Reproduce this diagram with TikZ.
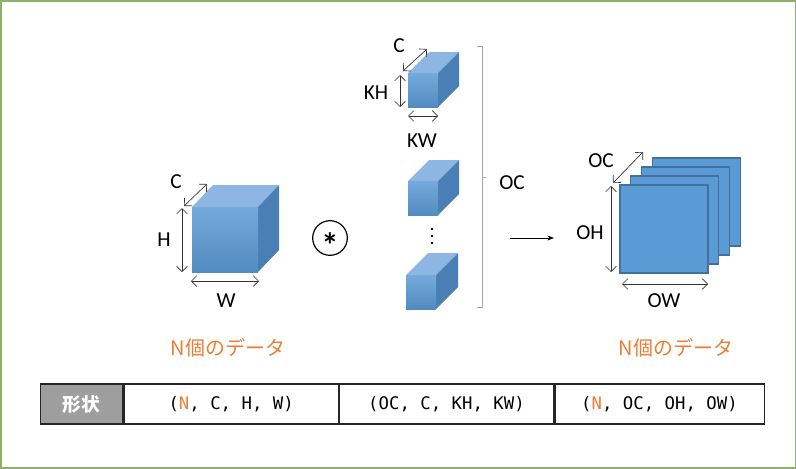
\documentclass[tikz,border=0pt]{standalone}
\usepackage{fontspec}
\setmainfont{Carlito}
\newfontfamily\jp{Noto Sans CJK JP}
\newfontfamily\mono{DejaVu Sans Mono}
\usetikzlibrary{arrows.meta}
\definecolor{cfront}{HTML}{5B9BD5}
\definecolor{ctop}{HTML}{8DB6E3}
\definecolor{cside}{HTML}{4A7FB5}
\definecolor{cedge}{HTML}{41719C}
\definecolor{orng}{HTML}{ED7D31}
\definecolor{grn}{HTML}{8FAF6E}
\begin{document}
\begin{tikzpicture}[x=0.75pt,y=-0.75pt,
  dim/.style={{Straight Barb[length=4pt]}-{Straight Barb[length=4pt]},line width=0.5pt,black!80},
  lbl/.style={font=\fontsize{16}{17}\selectfont,inner sep=0pt},
  jlbl/.style={font=\jp\fontsize{15}{16}\selectfont,text=orng,inner sep=0pt},
  cell/.style={draw=black!85,line width=1pt,minimum height=30pt,inner sep=0pt,font=\mono\fontsize{13}{14}\selectfont},
  sq/.style={fill=cfront,draw=cedge,line width=0.8pt}]
\useasboundingbox (0,0) rectangle (796,468);
\draw[grn,line width=1.5pt] (0.5,0.5) rectangle (795.5,467.5);
\tikzset{pics/cube/.style args={#1/#2/#3/#4}{code={
  \fill[ctop] (0,0) -- (#3,-#4) -- (#1+#3,-#4) -- (#1,0) -- cycle;
  \fill[cside] (#1,0) -- (#1+#3,-#4) -- (#1+#3,#2-#4) -- (#1,#2) -- cycle;
  \shade[top color=cfront!85!white,bottom color=cfront!90!black] (0,0) rectangle (#1,#2);
}}}
% big cube
\pic at (192,207) {cube=66/65/21/22};
\coordinate (bc1) at (184,206); \coordinate (bc2) at (207,184);
\draw[dim] (bc1) -- (bc2);
\node[lbl] (lc) at (176,182) {C};
\coordinate (bh1) at (182,208); \coordinate (bh2) at (182,272);
\draw[dim] (bh1) -- (bh2);
\node[lbl] (lh) at (164,240) {H};
\coordinate (bw1) at (191,281); \coordinate (bw2) at (259,281);
\draw[dim] (bw1) -- (bw2);
\node[lbl] (lw) at (226,301) {W};
% convolution
\node[circle,draw,line width=0.9pt,minimum size=26pt,inner sep=0pt] (conv) at (330,238) {};
\node[font=\bfseries\fontsize{26}{26}\selectfont,inner sep=0pt] (ast) at (330,245) {*};
% kernels
\pic at (408,73) {cube=30/34/21/21};
\pic at (408,181) {cube=30/34/21/21};
\pic at (406,275) {cube=30/34/22/22};
\coordinate (kc1) at (403,71); \coordinate (kc2) at (427,49);
\draw[dim] (kc1) -- (kc2);
\node[lbl] (lkc) at (399,46) {C};
\coordinate (kh1) at (400,75); \coordinate (kh2) at (400,107);
\draw[dim] (kh1) -- (kh2);
\node[lbl] (lkh) at (376,93) {KH};
\coordinate (kw1) at (408,116); \coordinate (kw2) at (438,116);
\draw[dim] (kw1) -- (kw2);
\node[lbl] (lkw) at (422,141) {KW};
\foreach \yy in {229,236,243}{\fill (432,\yy) circle (1.1pt);}
% bracket
\coordinate (b1) at (477,46); \coordinate (b2) at (482,46);
\coordinate (b3) at (482,307); \coordinate (b4) at (477,307);
\draw[black!35,line width=0.6pt] (b1) -- (b2) -- (b3) -- (b4);
\coordinate (bm1) at (482,177); \coordinate (bm2) at (486,177);
\draw[black!35,line width=0.6pt] (bm1) -- (bm2);
\node[lbl] (loc) at (512,183) {OC};
% arrow
\coordinate (a1) at (510,238); \coordinate (a2) at (554,238);
\draw[-{Stealth[length=5pt]},line width=0.6pt] (a1) -- (a2);
% output
\foreach \i in {3,2,1,0}{
  \draw[sq] ({620+10.7*\i},{185-9*\i}) rectangle ++(88,88);
}
\coordinate (oc1) at (613,183); \coordinate (oc2) at (643,152);
\draw[dim] (oc1) -- (oc2);
\node[lbl] (loc2) at (601,161) {OC};
\coordinate (oh1) at (611,186); \coordinate (oh2) at (611,272);
\draw[dim] (oh1) -- (oh2);
\node[lbl] (loh) at (590,233) {OH};
\coordinate (ow1) at (622,284); \coordinate (ow2) at (708,284);
\draw[dim] (ow1) -- (ow2);
\node[lbl] (low) at (664,301) {OW};
% labels
\node[jlbl] (n1) at (228,348) {N個のデータ};
\node[jlbl] (n2) at (676,348) {N個のデータ};
% table
\node[cell,fill=black!38,minimum width=62pt,text=white,font=\jp\bfseries\fontsize{14}{15}\selectfont] (t0) at (81.5,404) {形状};
\node[cell,minimum width=160.5pt,anchor=west] (t1) at (t0.east) {(\textcolor{orng}{N}, C, H, W)};
\node[cell,minimum width=160.5pt,anchor=west] (t2) at (t1.east) {(OC, C, KH, KW)};
\node[cell,minimum width=157pt,anchor=west] (t3) at (t2.east) {(\textcolor{orng}{N}, OC, OH, OW)};
\end{tikzpicture}
\end{document}
